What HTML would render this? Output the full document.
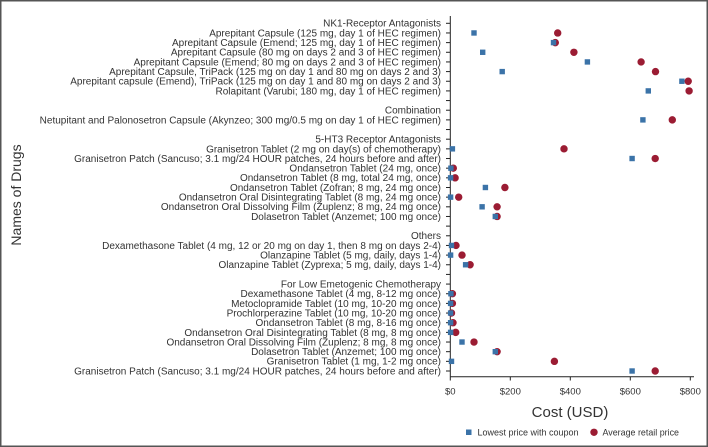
<!DOCTYPE html>
<html><head><meta charset="utf-8"><style>
html,body{margin:0;padding:0;background:#fff}
svg{display:block}
text{font-family:"Liberation Sans",sans-serif;fill:#333}
</style></head><body>
<svg id="chart" width="708" height="447" viewBox="0 0 708 447">
<rect x="0.75" y="0.75" width="706.5" height="445.5" fill="#fff" stroke="#555" stroke-width="1.5"/>
<g id="plot"></g>
<text x="570" y="417" font-size="15" text-anchor="middle">Cost (USD)</text>
<text transform="translate(21,195) rotate(-90)" font-size="14" text-anchor="middle">Names of Drugs</text>
<g>
<rect x="466" y="429.5" width="5.5" height="5.5" fill="#3b73a8"/>
<text x="477.5" y="435.5" font-size="9.3" textLength="101" lengthAdjust="spacingAndGlyphs">Lowest price with coupon</text>
<circle cx="594" cy="432.3" r="3.7" fill="#9b1c33"/>
<text x="602.5" y="435.5" font-size="9.3" textLength="76.5" lengthAdjust="spacingAndGlyphs">Average retail price</text>
</g>
</svg>
<script>
const labels=["NK1-Receptor Antagonists","Aprepitant Capsule (125 mg, day 1 of HEC regimen)","Aprepitant Capsule (Emend; 125 mg, day 1 of HEC regimen)","Aprepitant Capsule (80 mg on days 2 and 3 of HEC regimen)","Aprepitant Capsule (Emend; 80 mg on days 2 and 3 of HEC regimen)","Aprepitant Capsule, TriPack (125 mg on day 1 and 80 mg on days 2 and 3)","Aprepitant capsule (Emend), TriPack (125 mg on day 1 and 80 mg on days 2 and 3)","Rolapitant (Varubi; 180 mg, day 1 of HEC regimen)","","Combination","Netupitant and Palonosetron Capsule (Akynzeo; 300 mg/0.5 mg on day 1 of HEC regimen)","","5-HT3 Receptor Antagonists","Granisetron Tablet (2 mg on day(s) of chemotherapy)","Granisetron Patch (Sancuso; 3.1 mg/24 HOUR patches, 24 hours before and after)","Ondansetron Tablet (24 mg, once)","Ondansetron Tablet (8 mg, total 24 mg, once)","Ondansetron Tablet (Zofran; 8 mg, 24 mg once)","Ondansetron Oral Disintegrating Tablet (8 mg, 24 mg once)","Ondansetron Oral Dissolving Film (Zuplenz; 8 mg, 24 mg once)","Dolasetron Tablet (Anzemet; 100 mg once)","","Others","Dexamethasone Tablet (4 mg, 12 or 20 mg on day 1, then 8 mg on days 2-4)","Olanzapine Tablet (5 mg, daily, days 1-4)","Olanzapine Tablet (Zyprexa; 5 mg, daily, days 1-4)","","For Low Emetogenic Chemotherapy","Dexamethasone Tablet (4 mg, 8-12 mg once)","Metoclopramide Tablet (10 mg, 10-20 mg once)","Prochlorperazine Tablet (10 mg, 10-20 mg once)","Ondansetron Tablet (8 mg, 8-16 mg once)","Ondansetron Oral Disintegrating Tablet (8 mg, 8 mg once)","Ondansetron Oral Dissolving Film (Zuplenz; 8 mg, 8 mg once)","Dolasetron Tablet (Anzemet; 100 mg once)","Granisetron Tablet (1 mg, 1-2 mg once)","Granisetron Patch (Sancuso; 3.1 mg/24 HOUR patches, 24 hours before and after)"];
const lowest=[null,79,344,108,457,173,772,660,null,null,642,null,null,7,606,2,1,117,1,106,150,null,null,4,1,51,null,null,2,1,1,1,1,39,150,4,606];
const average=[null,358,350,412,636,684,793,796,null,null,740,null,null,379,683,10,16,182,28,156,156,null,null,19,39,66,null,null,7,7,4,9,18,79,156,347,683];
const xTicks=[0,200,400,600,800];
const xTickLabels=["$0","$200","$400","$600","$800"];
const NS="http://www.w3.org/2000/svg";
const g=document.getElementById('plot');
const X0=450.3,PX=0.3,Y0=23.3,DY=(371-23.3)/36;
const xs=v=>X0+v*PX, ys=i=>Y0+i*DY;
function mk(t,a){const e=document.createElementNS(NS,t);for(const k in a)e.setAttribute(k,a[k]);g.appendChild(e);return e;}
const ax=mk('line',{x1:X0,y1:16,x2:X0,y2:376.7,stroke:'#222','stroke-width':1});


const bx=mk('line',{x1:X0,y1:376.7,x2:694,y2:376.7,stroke:'#222','stroke-width':1});


xTicks.forEach((v,i)=>{
 const t=mk('line',{x1:xs(v),y1:376.7,x2:xs(v),y2:380.5,stroke:'#222','stroke-width':1});
 
 
 const l=mk('text',{x:xs(v),y:394.5,'font-size':9.5,'text-anchor':'middle'});
 l.textContent=xTickLabels[i];
 
 
});
labels.forEach((s,i)=>{
 const t=mk('line',{x1:446,y1:ys(i),x2:X0,y2:ys(i),stroke:'#222','stroke-width':1});
 
 
 if(s){const l=mk('text',{x:441,y:ys(i)+3.4,'font-size':10,'text-anchor':'end'});
 l.textContent=s;
 
 }
});
average.forEach((v,i)=>{if(v==null)return;
 const c=mk('circle',{cx:xs(v),cy:ys(i),r:3.7,fill:'#9b1c33'});
 
 
});
lowest.forEach((v,i)=>{if(v==null)return;
 const r=mk('rect',{x:xs(v)-2.7,y:ys(i)-2.7,width:5.4,height:5.4,fill:'#3b73a8'});
 
 
});
</script>
</body></html>
